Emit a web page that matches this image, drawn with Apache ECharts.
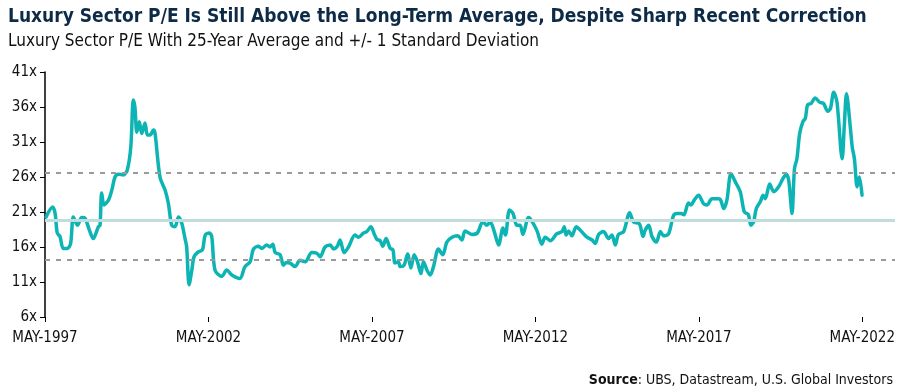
<!DOCTYPE html>
<html><head><meta charset="utf-8">
<script src="https://cdn.jsdelivr.net/npm/echarts@6/dist/echarts.min.js"></script>
<style>html,body{margin:0;padding:0;background:#fff}#c{width:900px;height:392px}</style>
</head><body><div id="c"></div>
<script>
// months since May 1997
const months = [0.4,2.8,3.7,4.5,5.5,6.7,8.2,9.4,10.4,11.9,13.5,14.7,16.3,17.7,19.6,20.2,20.8,21.7,23.3,24.5,25.7,26.9,28.8,30.2,31.5,32.4,33.0,33.7,34.6,35.5,36.7,37.6,38.6,39.8,40.4,42.2,44.1,45.3,46.5,47.7,49.0,50.2,51.4,52.0,52.9,53.9,54.7,56.3,57.8,58.8,60.3,61.2,62.4,64.9,66.7,68.6,71.5,73.4,75.3,76.5,78.3,79.6,81.4,82.6,83.6,84.5,86.3,87.5,88.5,90.0,91.8,93.6,95.5,97.9,99.8,101.0,102.8,104.7,105.9,107.3,108.3,109.8,111.4,113.8,115.1,116.9,118.1,119.6,120.8,121.8,123.0,124.0,125.2,126.7,127.7,128.5,129.7,130.4,131.8,133.1,134.3,135.5,136.7,138.0,138.9,140.2,141.4,142.6,144.4,146.0,147.5,149.4,151.5,153.0,154.2,156.7,158.7,160.7,162.2,163.4,164.9,166.5,168.1,169.0,170.5,171.8,173.2,174.4,175.4,177.5,178.7,180.6,182.4,183.6,185.5,187.9,189.8,190.6,191.3,192.2,193.4,195.0,196.5,198.9,200.8,202.0,203.2,205.0,206.9,208.1,209.3,210.5,212.4,214.6,216.0,218.2,219.5,220.3,221.6,222.8,224.4,225.9,227.1,228.9,230.7,232.0,233.5,234.5,236.2,237.1,238.3,239.9,241.7,243.0,244.8,246.7,247.9,249.1,250.3,251.8,253.4,255.2,256.7,258.2,259.1,260.1,261.1,262.6,263.6,264.4,266.0,267.5,269.3,270.9,272.1,273.0,274.2,275.1,276.0,277.0,278.2,279.1,279.9,281.2,282.7,284.3,285.8,287.3,288.3,289.5,290.7,292.6,293.4,294.2,295.7,296.3,297.1,298.1,298.9,299.9];
const pe = [20.3,21.7,20.8,18.0,17.5,15.8,15.8,16.5,20.3,19.1,20.2,20.1,18.4,17.2,18.9,19.1,23.7,22.0,22.7,24.1,26.0,26.4,26.3,27.0,30.3,37.0,36.0,32.4,33.9,32.2,33.7,32.0,32.0,32.7,32.2,26.0,24.1,22.2,19.1,18.9,20.3,19.4,17.2,16.0,10.6,12.7,14.6,15.3,15.6,17.7,18.0,17.5,12.7,11.8,12.7,12.0,11.5,13.2,13.9,15.7,16.1,15.8,16.3,16.0,16.4,15.2,14.9,13.4,13.8,13.7,13.2,14.1,13.9,15.2,15.1,14.6,16.0,16.3,15.7,16.1,17.0,15.2,16.0,17.7,17.4,18.0,18.2,18.9,17.9,17.1,16.9,16.1,17.2,15.8,15.6,13.7,13.9,13.2,13.4,15.0,13.0,14.9,13.9,12.2,13.9,12.7,12.0,13.2,15.7,14.9,16.7,17.4,17.6,17.0,18.3,17.8,18.0,19.6,19.1,19.6,18.2,16.3,18.7,17.7,21.3,20.8,19.1,19.1,17.8,20.2,19.7,18.3,16.4,17.4,16.9,17.9,18.2,18.9,17.7,18.3,17.6,18.9,18.4,17.4,17.0,16.5,17.8,18.2,17.2,17.7,16.3,17.8,18.2,20.9,19.6,19.3,17.5,18.4,19.1,17.5,16.7,18.2,17.6,17.9,20.5,20.8,20.8,20.6,22.3,22.0,22.7,23.4,22.2,22.0,22.9,22.9,22.8,21.5,22.7,26.5,25.3,23.9,21.0,20.6,19.1,19.6,21.5,22.5,23.4,22.9,25.0,23.9,24.6,25.8,26.4,25.5,20.8,27.2,28.6,32.2,33.9,34.4,36.3,36.5,37.3,36.7,36.5,35.4,35.8,38.1,36.7,28.6,33.4,37.9,32.7,30.3,28.6,24.6,26.0,23.4];
const yTicks = [6,11,16,21,26,31,36,41];
const xTickMonths = [0,60,120,180,240,300];
const xTickLabels = ['MAY-1997','MAY-2002','MAY-2007','MAY-2012','MAY-2017','MAY-2022'];
const average = 19.8;
const plusOneSD = 26.6;
const minusOneSD = 14.2;

const titleText = 'Luxury Sector P/E Is Still Above the Long-Term Average, Despite Sharp Recent Correction';
const subtitleText = 'Luxury Sector P/E With 25-Year Average and +/- 1 Standard Deviation';

const chart = echarts.init(document.getElementById('c'), null, {renderer:'canvas'});
const cond = '"Liberation Sans Narrow","DejaVu Sans Condensed",sans-serif';
chart.setOption({
  animation:false,
  title:[
    {text:titleText, left:3, top:3, textStyle:{fontFamily:cond, fontWeight:'bold', fontSize:19, color:'#0d2b47'}},
    {text:subtitleText, left:3, top:28, textStyle:{fontFamily:cond, fontWeight:'normal', fontSize:17, color:'#111'}}
  ],
  graphic:[{type:'text', right:7, top:373, style:{
    text:'{b|Source}: UBS, Datastream, U.S. Global Investors',
    rich:{b:{fontWeight:'bold', fontFamily:cond, fontSize:14, fill:'#111'}},
    font:'14px '+cond, fill:'#111'}}],
  grid:{left:45, right:5, top:72, bottom:75},
  xAxis:{type:'value', min:0, max:312,
    axisLine:{show:false},
    axisTick:{show:true, customValues:xTickMonths, length:5, lineStyle:{color:'#000', width:1}},
    axisLabel:{customValues:xTickMonths, formatter:v=>xTickLabels[xTickMonths.indexOf(v)]||'', margin:14,
      fontFamily:cond, fontSize:15, color:'#111'},
    splitLine:{show:false}},
  yAxis:{type:'value', min:6, max:41,
    axisLine:{show:true, lineStyle:{color:'#000', width:1.5}},
    axisTick:{show:true, customValues:yTicks, length:5, lineStyle:{color:'#000'}},
    axisLabel:{customValues:yTicks, formatter:v=>v+'x', margin:8, fontFamily:cond, fontSize:15, color:'#111'},
    splitLine:{show:false}},
  series:[
    {type:'line', data:[], z:1, silent:true,
     markLine:{symbol:'none', silent:true, label:{show:false},
       data:[
         {yAxis:average, lineStyle:{color:'#c0dcdb', width:3, type:'solid'}},
         {yAxis:plusOneSD, lineStyle:{color:'#9a9a9a', width:2, type:[5,6]}},
         {yAxis:minusOneSD, lineStyle:{color:'#9a9a9a', width:2, type:[5,6]}}
       ]}},
    {type:'line', z:3, data:months.map((m,i)=>[m,pe[i]]), showSymbol:false, smooth:0.3,
     lineStyle:{color:'#0db4b4', width:3.5, join:'round', cap:'round'}}
  ]
});
</script></body></html>
